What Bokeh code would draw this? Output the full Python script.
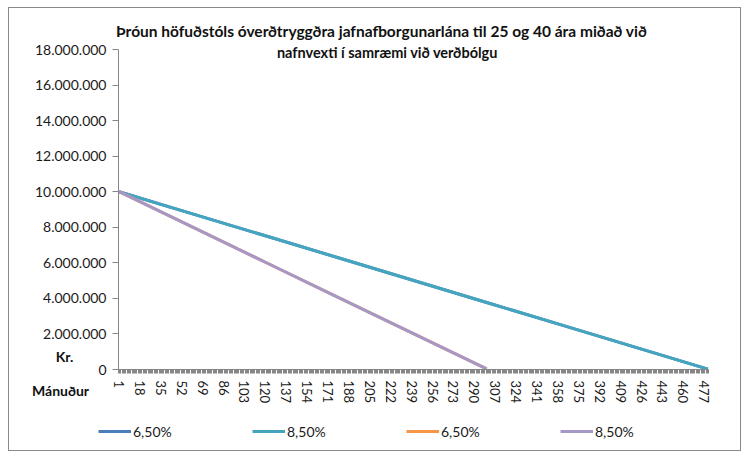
from bokeh.plotting import figure
from bokeh.models import (Range1d, FixedTicker, Label, Legend, LegendItem)
from bokeh.embed import file_html
from bokeh.resources import INLINE

# ---- data ----
title_lines = ["Þróun höfuðstóls óverðtryggðra jafnafborgunarlána  til 25 og 40 ára miðað við",
               "nafnvexti í samræmi við verðbólgu"]
series_names = ["6,50%", "8,50%", "6,50%", "8,50%"]

months_40 = [1, 60, 120, 180, 240, 300, 360, 420, 480]
bal_40_650 = [10000000, 8770833, 7520833, 6270833, 5020833, 3770833, 2520833, 1270833, 20833]
bal_40_850 = [10000000, 8770833, 7520833, 6270833, 5020833, 3770833, 2520833, 1270833, 20833]

months_25 = [1, 60, 120, 180, 240, 300]
bal_25_650 = [10000000, 8033333, 6033333, 4033333, 2033333, 33333]
bal_25_850 = [10000000, 8033333, 6033333, 4033333, 2033333, 33333]

x_ticks = list(range(1, 481, 17))
y_ticks = [0, 2000000, 4000000, 6000000, 8000000, 10000000,
           12000000, 14000000, 16000000, 18000000]
y_tick_labels = ["0", "2.000.000", "4.000.000", "6.000.000", "8.000.000", "10.000.000",
                 "12.000.000", "14.000.000", "16.000.000", "18.000.000"]
n_months = 480
y_max = 18000000

# ---- layout (pixels inside the figure) ----
W, H = 733, 444
PLOT_L, PLOT_R = 109, 699      # x of category axis start / end
PLOT_T, PLOT_B = 41, 361       # y of 18M and of 0
kx = (PLOT_R - PLOT_L) / n_months
ky = y_max / (PLOT_B - PLOT_T)
x0 = 0.5 - PLOT_L / kx
x1 = n_months + 0.5 + (W - PLOT_R) / kx
y0 = -(H - PLOT_B) * ky
y1 = y_max + PLOT_T * ky

FONT = "Lato"
GRAY = "#868686"

p = figure(width=W, height=H, output_backend="svg", toolbar_location=None,
           x_range=Range1d(x0, x1), y_range=Range1d(y0, y1),
           min_border=0, min_border_left=0, min_border_right=0,
           min_border_top=0, min_border_bottom=0)
p.title.visible = False
p.styles = {"border": "1px solid #8a8a8a", "margin-left": "8px", "margin-top": "7px"}
p.outline_line_color = None
p.xgrid.visible = False
p.ygrid.visible = False
p.background_fill_color = "white"
p.border_fill_color = "white"

# y axis (fixed at the start of the category axis)
ya = p.yaxis[0]
ya.fixed_location = 0.5
ya.bounds = (0, y_max)
ya.ticker = FixedTicker(ticks=y_ticks)
ya.major_label_overrides = {t: s for t, s in zip(y_ticks, y_tick_labels)}
ya.axis_line_color = GRAY
ya.major_tick_line_color = GRAY
ya.major_tick_in = 0
ya.major_tick_out = 6
ya.minor_tick_line_color = None
ya.major_label_text_font = FONT
ya.major_label_text_font_size = "14px"
ya.major_label_text_color = "#1a1a1a"
ya.major_label_standoff = 6

# x axis (fixed at zero)
xa = p.xaxis[0]
xa.fixed_location = 0
xa.bounds = (0.5, n_months + 0.5)
xa.ticker = FixedTicker(ticks=x_ticks, minor_ticks=[m + 0.5 for m in range(0, n_months + 1)])
xa.axis_line_color = GRAY
xa.major_tick_line_color = None
xa.major_tick_in = 0
xa.major_tick_out = 0
xa.minor_tick_line_color = GRAY
xa.minor_tick_in = 0
xa.minor_tick_out = 4
xa.major_label_orientation = "vertical"
xa.major_label_text_font = FONT
xa.major_label_text_font_size = "13px"
xa.major_label_text_color = "#1a1a1a"
xa.major_label_standoff = 7

colors = ["#4A7EBB", "#45A5BF", "#F79646", "#A598C8"]
r1 = p.line(months_40, bal_40_650, line_color=colors[0], line_width=3)
r2 = p.line(months_40, bal_40_850, line_color=colors[1], line_width=3)
r3 = p.line(months_25, bal_25_650, line_color=colors[2], line_width=3)
r4 = p.line(months_25, bal_25_850, line_color=colors[3], line_width=3)

legend = Legend(items=[LegendItem(label=series_names[i], renderers=[r])
                       for i, r in enumerate([r1, r2, r3, r4])],
                orientation="horizontal", location=(89, 11),
                padding=0, margin=0, spacing=0, glyph_width=33, glyph_height=20,
                label_standoff=2, label_width=119, label_height=20,
                border_line_color=None, background_fill_alpha=0,
                label_text_font=FONT, label_text_font_size="14px",
                label_text_color="#1a1a1a")
p.add_layout(legend, "center")

# title and axis captions (screen px from the figure's bottom-left)
def cap(x, y, text, size="14px"):
    p.add_layout(Label(x=x, y=y, x_units="screen", y_units="screen",
                       text=text, text_align="center", text_baseline="middle",
                       text_font=FONT, text_font_style="bold", text_font_size=size,
                       text_color="#111111"))

cap(374, 422, title_lines[0], "15.5px")
cap(378, 400, title_lines[1], "14.5px")
cap(55, 96, "Kr.")
cap(51, 62, "Mánuður")

open("out.html", "w").write(file_html(p, INLINE))
